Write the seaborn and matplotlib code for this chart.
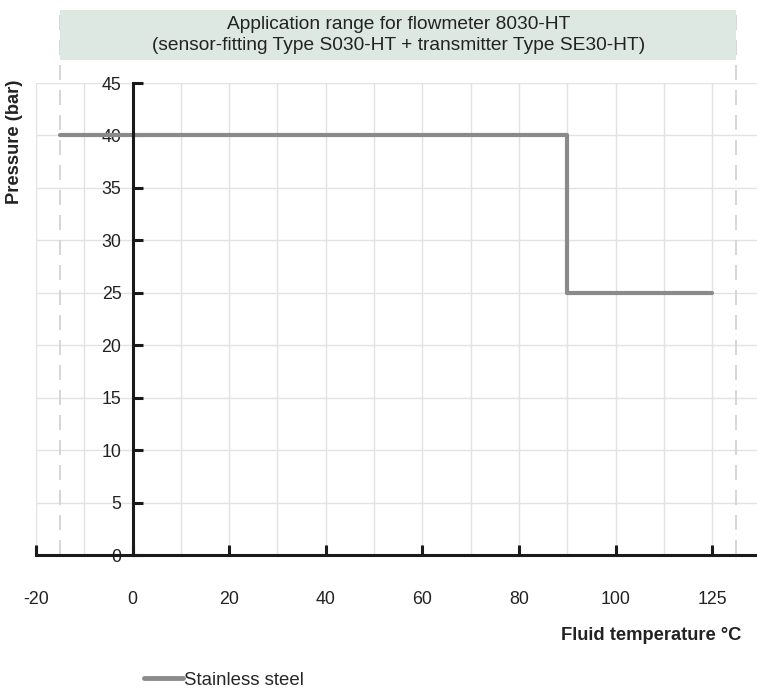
import pandas as pd
import matplotlib.pyplot as plt
import seaborn as sns
from matplotlib.patches import Rectangle

# datos del rango de aplicación
temp_pos = [-15, 90, 90, 120]        # posición en el eje (125 °C se dibuja en la marca 120)
presion = [40, 40, 25, 25]
serie = ["Stainless steel"] * 4

x_ticks = [-20, 0, 20, 40, 60, 80, 100, 120]
x_tick_labels = ["-20", "0", "20", "40", "60", "80", "100", "125"]
y_ticks = [0, 5, 10, 15, 20, 25, 30, 35, 40, 45]
rango = [-15, 125]   # límites del rango (líneas discontinuas)

sns.set_theme(style="white")
plt.rcParams["font.family"] = ["Liberation Sans", "DejaVu Sans"]

df = pd.DataFrame({"Temp": temp_pos, "Presion": presion, "Material": serie})

fig = plt.figure(figsize=(7.57, 6.91), dpi=100)
ax = fig.add_axes([36 / 757, 136 / 691, 721 / 757, 472 / 691])

sns.lineplot(data=df, x="Temp", y="Presion", hue="Material", sort=False,
             estimator=None, palette=["#8a8a8a"], linewidth=3, ax=ax,
             legend=False, zorder=5)

ax.set_xlim(-20, 129.3)
ax.set_ylim(0, 45)

# rejilla
for gx in range(-20, 121, 10):
    ax.axvline(gx, color="#e2e2e2", lw=1, zorder=0)
for gy in y_ticks[1:]:
    ax.axhline(gy, color="#e2e2e2", lw=1, zorder=0)

# líneas discontinuas del rango
for rx in rango:
    ax.axvline(rx, ymin=0, ymax=1.155, color="#cfcfcf", lw=1.2,
               dashes=(9, 6), clip_on=False, zorder=1)

# banda del título
ax.add_patch(Rectangle((rango[0], 1.0487), rango[1] - rango[0], 0.106,
                       transform=ax.get_xaxis_transform(), facecolor="#dce8e1",
                       edgecolor="none", clip_on=False, zorder=2))
ax.text(sum(rango) / 2, 1.1017,
        "Application range for flowmeter 8030-HT\n(sensor-fitting Type S030-HT + transmitter Type SE30-HT)",
        transform=ax.get_xaxis_transform(), ha="center", va="center",
        fontsize=13.8, color="#222222", linespacing=1.3, zorder=3)

# ejes
for s in ["top", "right"]:
    ax.spines[s].set_visible(False)
ax.spines["left"].set_position(("data", 0))
for s in ["left", "bottom"]:
    ax.spines[s].set_color("#1a1a1a")
    ax.spines[s].set_linewidth(2.2)
    ax.spines[s].set_zorder(6)
ax.spines["left"].set_bounds(0, 45)

ax.set_xticks(x_ticks)
ax.set_xticklabels(x_tick_labels)
ax.set_yticks(y_ticks)
ax.set_yticklabels([str(v) for v in y_ticks])
ax.tick_params(axis="x", bottom=True, direction="in", length=7, width=2.2,
               color="#1a1a1a", pad=26, labelsize=12.8, labelcolor="#222222")
ax.tick_params(axis="y", left=True, direction="in", length=7, width=2.2,
               color="#1a1a1a", pad=8, labelsize=12.8, labelcolor="#222222")
ax.set_xlabel("")
ax.set_ylabel("")

fig.text(15 / 757, 1 - 80 / 691, "Pressure (bar)", rotation=90, ha="center", va="top",
         fontsize=13.2, fontweight="bold", color="#222222")
fig.text(741 / 757, 1 - 635 / 691, "Fluid temperature °C", ha="right", va="center",
         fontsize=13.2, fontweight="bold", color="#222222")

# leyenda
h = plt.Line2D([], [], color="#8a8a8a", lw=3.5)
fig.legend([h], [serie[0]], loc="center left", bbox_to_anchor=(127 / 757, 11 / 691),
           frameon=False, fontsize=13.4, handlelength=2.1, handletextpad=0.05)

plt.savefig("out.png", dpi=100)
